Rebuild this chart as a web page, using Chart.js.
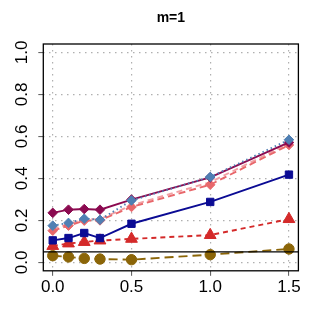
<!DOCTYPE html>
<html>
<head>
<meta charset="utf-8">
<script src="https://cdn.jsdelivr.net/npm/chart.js@4"></script>
<style>
  html, body { margin: 0; padding: 0; background: #fff; }
  #wrap { width: 321px; height: 327px; }
</style>
</head>
<body>
<div id="wrap"><canvas id="chart" width="321" height="327"></canvas></div>
<script>
// data
const xVals = [0, 0.1, 0.2, 0.3, 0.5, 1.0, 1.5];
const purpleVals = [0.236, 0.251, 0.254, 0.251, 0.299, 0.405, 0.571];
const blueDiamondVals = [0.175, 0.188, 0.208, 0.203, 0.295, 0.407, 0.584];
const coralVals = [0.151, 0.175, 0.199, 0.200, 0.264, 0.370, 0.559];
const pinkVals = [0.160, 0.182, 0.206, 0.206, 0.272, 0.382, 0.566];
const navyVals = [0.105, 0.116, 0.140, 0.116, 0.184, 0.288, 0.418];
const redVals = [0.078, 0.090, 0.097, 0.104, 0.112, 0.130, 0.206];
const goldVals = [0.032, 0.026, 0.019, 0.016, 0.013, 0.037, 0.064];
const xTicks = [0, 0.5, 1.0, 1.5];
const yTicks = [0, 0.2, 0.4, 0.6, 0.8, 1.0];
const refLine = 0.05;

function pts(vals) {
    return vals.map((v, i) => ({ x: xVals[i], y: v }));
}

function series(vals, color, style, pointStyle, radius, order) {
    return {
        data: pts(vals),
        borderColor: color,
        backgroundColor: color,
        borderWidth: 1.9,
        borderDash: style,
        pointStyle: pointStyle,
        pointRadius: radius,
        pointBorderColor: color,
        pointBackgroundColor: color,
        pointBorderWidth: 1,
        order: order
    };
}

// box, reference line and rotated y labels
const extras = {
    id: 'extras',
    afterDatasetsDraw(chart) {
        const { ctx, chartArea: a, scales } = chart;
        ctx.save();
        const y = scales.y.getPixelForValue(refLine);
        ctx.strokeStyle = '#000';
        ctx.lineWidth = 1.2;
        ctx.beginPath();
        ctx.moveTo(a.left, y);
        ctx.lineTo(a.right, y);
        ctx.stroke();
        ctx.lineWidth = 1.3;
        ctx.strokeRect(a.left, a.top, a.right - a.left, a.bottom - a.top);
        ctx.restore();
    },
    afterDraw(chart) {
        const { ctx, scales } = chart;
        ctx.save();
        ctx.fillStyle = '#000';
        ctx.font = '17px "Liberation Sans", Arial, sans-serif';
        ctx.textAlign = 'center';
        ctx.textBaseline = 'middle';
        yTicks.forEach(t => {
            const py = scales.y.getPixelForValue(t);
            ctx.save();
            ctx.translate(22, py);
            ctx.rotate(-Math.PI / 2);
            ctx.fillText(t.toFixed(1), 0, 0);
            ctx.restore();
        });
        ctx.restore();
    }
};

const grid = {
    color: '#b0b0b0',
    lineWidth: 1.2,
    drawTicks: true,
    tickLength: 5,
    tickColor: '#555',
    tickBorderDash: [],
    tickWidth: 1
};
const border = { display: false, dash: [1.5, 4.5] };

new Chart(document.getElementById('chart'), {
    type: 'line',
    data: {
        datasets: [
            series(purpleVals, '#8b0a50', [], 'rectRot', 4.8, 2),
            series(blueDiamondVals, '#4f7fb3', [1.5, 3], 'rectRot', 4.8, 1),
            series(pinkVals, '#f2a0a4', [6, 4], false, 0, 4),
            series(coralVals, '#e8676b', [7, 4], 'rectRot', 4.8, 3),
            series(navyVals, '#0b0b94', [], 'rect', 5.2, 5),
            series(redVals, '#d42a2a', [5, 4], 'triangle', 6.8, 6),
            series(goldVals, '#8b6508', [9, 5], 'circle', 5.2, 7)
        ]
    },
    options: {
        responsive: false,
        animation: false,
        layout: { padding: { left: 0, right: 22.6, top: 0, bottom: 0 } },
        plugins: {
            legend: { display: false },
            tooltip: { enabled: false },
            title: {
                display: true,
                text: 'm=1',
                fullSize: false,
                color: '#000',
                font: { family: '"Liberation Sans", Arial, sans-serif', size: 14, weight: 'bold', lineHeight: 1.2 },
                padding: { top: 9.5, bottom: 17.7 }
            }
        },
        scales: {
            x: {
                type: 'linear',
                min: -0.06,
                max: 1.56,
                afterBuildTicks: s => { s.ticks = xTicks.map(v => ({ value: v })); },
                afterFit: s => { s.height = 56.2; },
                border: border,
                grid: grid,
                ticks: {
                    color: '#000',
                    padding: 1,
                    maxRotation: 0,
                    font: { family: '"Liberation Sans", Arial, sans-serif', size: 17 },
                    callback: v => Number(v).toFixed(1)
                }
            },
            y: {
                type: 'linear',
                min: -0.04,
                max: 1.04,
                afterBuildTicks: s => { s.ticks = yTicks.map(v => ({ value: v })); },
                afterFit: s => { s.width = 43.3; },
                border: border,
                grid: grid,
                ticks: { display: false }
            }
        }
    },
    plugins: [extras]
});
</script>
</body>
</html>
